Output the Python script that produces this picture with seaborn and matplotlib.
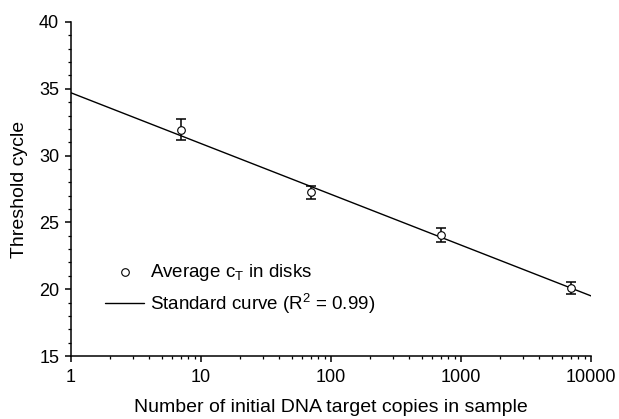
import matplotlib
matplotlib.use("Agg")
import matplotlib.pyplot as plt
import seaborn as sns
import numpy as np
from matplotlib.ticker import FixedLocator, LogLocator, NullFormatter, FixedFormatter

sns.set_style("ticks")
plt.rcParams['font.family'] = ['Liberation Sans', 'DejaVu Sans']
plt.rcParams['text.color'] = 'black'
plt.rcParams['axes.labelcolor'] = 'black'

copies = [7, 70, 700, 7000]
ct_mean = [31.95, 27.25, 24.05, 20.1]
ct_err = [0.78, 0.5, 0.5, 0.45]
fit_x = [1, 10000]
fit_y = [34.7, 19.5]
x_ticks = [1, 10, 100, 1000, 10000]
x_tick_labels = ['1', '10', '100', '1000', '10000']
y_ticks = [15, 20, 25, 30, 35, 40]

fig = plt.figure(figsize=(6.19, 4.19), dpi=100)
ax = fig.add_axes([71/619, 1-356/419, 520/619, 334/419])

ax.errorbar(copies, ct_mean, yerr=ct_err, fmt='none', ecolor='black',
            elinewidth=1.1, capsize=3.5, capthick=1.1)
sns.scatterplot(x=copies, y=ct_mean, ax=ax, marker='o', s=30,
                facecolor='white', edgecolor='black', linewidth=0.8,
                label=r'Average c$_\mathregular{T}$ in disks', zorder=3)
sns.lineplot(x=fit_x, y=fit_y, ax=ax, color='black', linewidth=1.0,
             label=r'Standard curve (R$^\mathregular{2}$ = 0.99)')

ax.set_xscale('log')
ax.set_xlim(1, 10000)
ax.set_ylim(15, 40)
ax.xaxis.set_major_locator(FixedLocator(x_ticks))
ax.xaxis.set_major_formatter(FixedFormatter(x_tick_labels))
ax.xaxis.set_minor_locator(LogLocator(base=10, subs=np.arange(2, 10)))
ax.xaxis.set_minor_formatter(NullFormatter())
ax.yaxis.set_major_locator(FixedLocator(y_ticks))
ax.yaxis.set_minor_locator(FixedLocator(np.arange(15, 41, 1)))

for s in ['top', 'right']:
    ax.spines[s].set_visible(False)
for s in ['left', 'bottom']:
    ax.spines[s].set_linewidth(1.1)
    ax.spines[s].set_color('black')

ax.tick_params(axis='both', which='major', length=4, width=1.1, labelsize=13, colors='black', direction='out')
ax.tick_params(axis='both', which='minor', length=2.2, width=0.9, direction='out', colors='black')
ax.tick_params(axis='x', which='major', pad=5)
ax.tick_params(axis='y', which='major', pad=4.5)

ax.set_xlabel('Number of initial DNA target copies in sample', fontsize=14, labelpad=10, color='black')
ax.set_ylabel('Threshold cycle', fontsize=14, labelpad=8, color='black')

leg = ax.legend(loc='lower left', bbox_to_anchor=(0.033, 0.07), frameon=False,
                fontsize=13.5, handlelength=2.1, labelspacing=0.45, handletextpad=0.3,
                borderpad=0.4, labelcolor='black')

fig.savefig('out.png', dpi=100, facecolor='white')
